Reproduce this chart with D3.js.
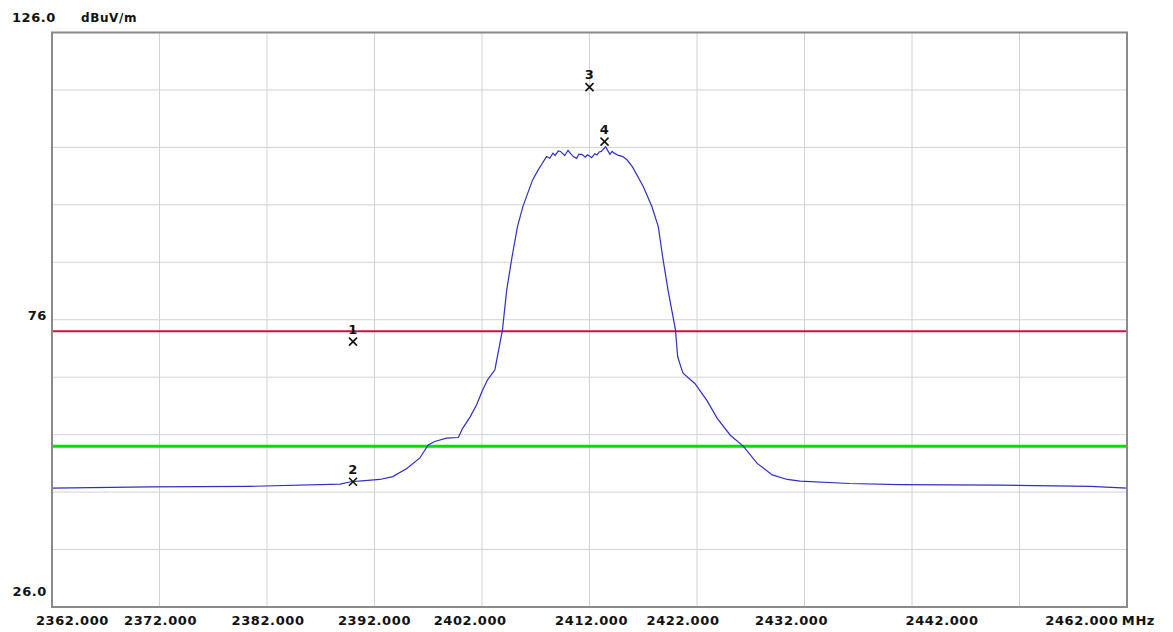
<!DOCTYPE html>
<html>
<head>
<meta charset="utf-8">
<script src="https://cdn.jsdelivr.net/npm/d3@7"></script>
<style>
body { margin: 0; background: #fff; }
text { font-family: "DejaVu Sans", sans-serif; font-weight: bold; fill: #111; letter-spacing: 0.6px; }
</style>
</head>
<body>
<script>
const margin = {top: 32.5, left: 52, bottom: 25, right: 46}
const width = 1173
const height = 632

// trace (MHz, dBuV/m)
const freq = [2362.0, 2371.1, 2380.4, 2388.8, 2389.8, 2391.1, 2392.5, 2393.7, 2395.0, 2396.2,
  2397.0, 2397.6, 2398.7, 2399.8, 2400.2, 2400.9, 2401.5, 2402.0, 2402.5, 2403.2,
  2403.9, 2404.3, 2404.8, 2405.3, 2405.8, 2406.7, 2407.2, 2407.6, 2408.0, 2408.3,
  2408.6, 2408.8, 2409.1, 2409.3, 2409.7, 2410.0, 2410.2, 2410.5, 2410.8, 2411.0,
  2411.3, 2411.6, 2411.8, 2412.0, 2412.2, 2412.5, 2412.7, 2412.9, 2413.1, 2413.5,
  2413.9, 2414.1, 2414.3, 2414.7, 2415.1, 2415.5, 2416.0, 2417.0, 2417.8, 2418.4,
  2418.8, 2419.3, 2420.0, 2420.2, 2420.5, 2420.7, 2421.8, 2422.9, 2423.9, 2425.1,
  2426.3, 2427.6, 2429.0, 2430.4, 2431.6, 2436.2, 2440.9, 2450.2, 2458.6, 2462.0]
const level = [46.7, 46.9, 47.0, 47.4, 47.8, 48.0, 48.2, 48.7, 50.1, 51.9,
  54.2, 54.8, 55.4, 55.5, 57.1, 59.1, 61.2, 63.5, 65.5, 67.3,
  74.2, 81.2, 87.0, 92.2, 95.7, 100.3, 102.0, 103.2, 104.4, 104.1,
  105.0, 104.6, 105.4, 105.3, 104.6, 105.5, 105.0, 104.4, 104.1, 104.8,
  104.8, 104.3, 104.7, 104.5, 104.2, 104.9, 104.7, 105.2, 105.3, 106.1,
  104.8, 105.3, 105.0, 104.6, 104.4, 103.8, 102.6, 99.2, 95.7, 92.2,
  87.0, 81.2, 74.2, 69.6, 67.8, 66.7, 64.9, 62.0, 58.8, 55.9,
  54.0, 51.0, 49.0, 48.2, 47.9, 47.5, 47.3, 47.2, 47.0, 46.7]

const limits = [74, 54]

const markerIds = ['1', '2', '3', '4']
const markerFreq = [2390, 2390, 2412, 2413.4]
const markerLevel = [72.2, 47.8, 116.5, 107]

const xTickLabels = ['2362.000', '2372.000', '2382.000', '2392.000', '2402.000', '2412.000', '2422.000', '2432.000', '2442.000', '2462.000']
const xLabelFreq = [2363.9, 2372.1, 2382.1, 2392.0, 2400.9, 2412.2, 2420.7, 2430.8, 2444.8, 2457.8]
const yTickLabels = ['126.0', '76', '26.0']
const yTickValues = [126, 76, 26]

let x = d3.scaleLinear().domain([2362, 2462]).range([margin.left, width - margin.right])
let y = d3.scaleLinear().domain([26, 126]).range([height - margin.bottom, margin.top])

let svg = d3.select('body')
            .append('svg')
            .attr('width', width)
            .attr('height', height)

// grid
svg.append('g')
   .selectAll('line')
   .data(d3.range(2372, 2462, 10))
   .enter()
   .append('line')
   .attr('x1', d => x(d)).attr('x2', d => x(d))
   .attr('y1', y(126)).attr('y2', y(26))
   .attr('stroke', '#d2d2d2')
svg.append('g')
   .selectAll('line')
   .data(d3.range(36, 126, 10))
   .enter()
   .append('line')
   .attr('y1', d => y(d)).attr('y2', d => y(d))
   .attr('x1', x(2362)).attr('x2', x(2462))
   .attr('stroke', '#d2d2d2')

// limit lines
svg.append('line')
   .attr('x1', x(2362)).attr('x2', x(2462))
   .attr('y1', y(limits[0])).attr('y2', y(limits[0]))
   .attr('stroke', '#c8143c').attr('stroke-width', 2)
svg.append('line')
   .attr('x1', x(2362)).attr('x2', x(2462))
   .attr('y1', y(limits[1])).attr('y2', y(limits[1]))
   .attr('stroke', '#00e000').attr('stroke-width', 3)

// trace
let line = d3.line().x((d, i) => x(freq[i])).y(d => y(d))
svg.append('path')
   .datum(level)
   .attr('d', line)
   .attr('fill', 'none')
   .attr('stroke', '#2e2ec8')
   .attr('stroke-width', 1.2)

// frame
svg.append('rect')
   .attr('x', x(2362)).attr('y', y(126))
   .attr('width', x(2462) - x(2362)).attr('height', y(26) - y(126))
   .attr('fill', 'none')
   .attr('stroke', '#8a8a8a')
   .attr('stroke-width', 2)

// markers
let mk = svg.append('g')
            .selectAll('g')
            .data(markerIds)
            .enter()
            .append('g')
            .attr('transform', (d, i) => `translate(${x(markerFreq[i])}, ${y(markerLevel[i])})`)
mk.append('path')
  .attr('d', 'M-4,-4L4,4M-4,4L4,-4')
  .attr('stroke', '#111')
  .attr('stroke-width', 1.6)
mk.append('text')
  .attr('y', -8)
  .attr('text-anchor', 'middle')
  .style('font-size', '13px')
  .text(d => d)

// axis labels
svg.append('g')
   .selectAll('text')
   .data(xTickLabels)
   .enter()
   .append('text')
   .attr('x', (d, i) => x(xLabelFreq[i]))
   .attr('y', y(26) + 18)
   .attr('text-anchor', 'middle')
   .style('font-size', '13px')
   .text(d => d)
svg.append('text')
   .attr('x', x(xLabelFreq[xLabelFreq.length - 1]) + 40)
   .attr('y', y(26) + 18)
   .style('font-size', '13px')
   .text('MHz')

svg.append('g')
   .selectAll('text')
   .data(yTickLabels)
   .enter()
   .append('text')
   .attr('x', (d, i) => i == 0 ? 56 : 47)
   .attr('y', (d, i) => y(yTickValues[i]) + (yTickValues[i] == 76 ? 0 : -11))
   .attr('text-anchor', 'end')
   .style('font-size', '13px')
   .text(d => d)
svg.append('text')
   .attr('x', 81)
   .attr('y', y(126) - 11)
   .style('font-size', '12px')
   .text('dBuV/m')
</script>
</body>
</html>
